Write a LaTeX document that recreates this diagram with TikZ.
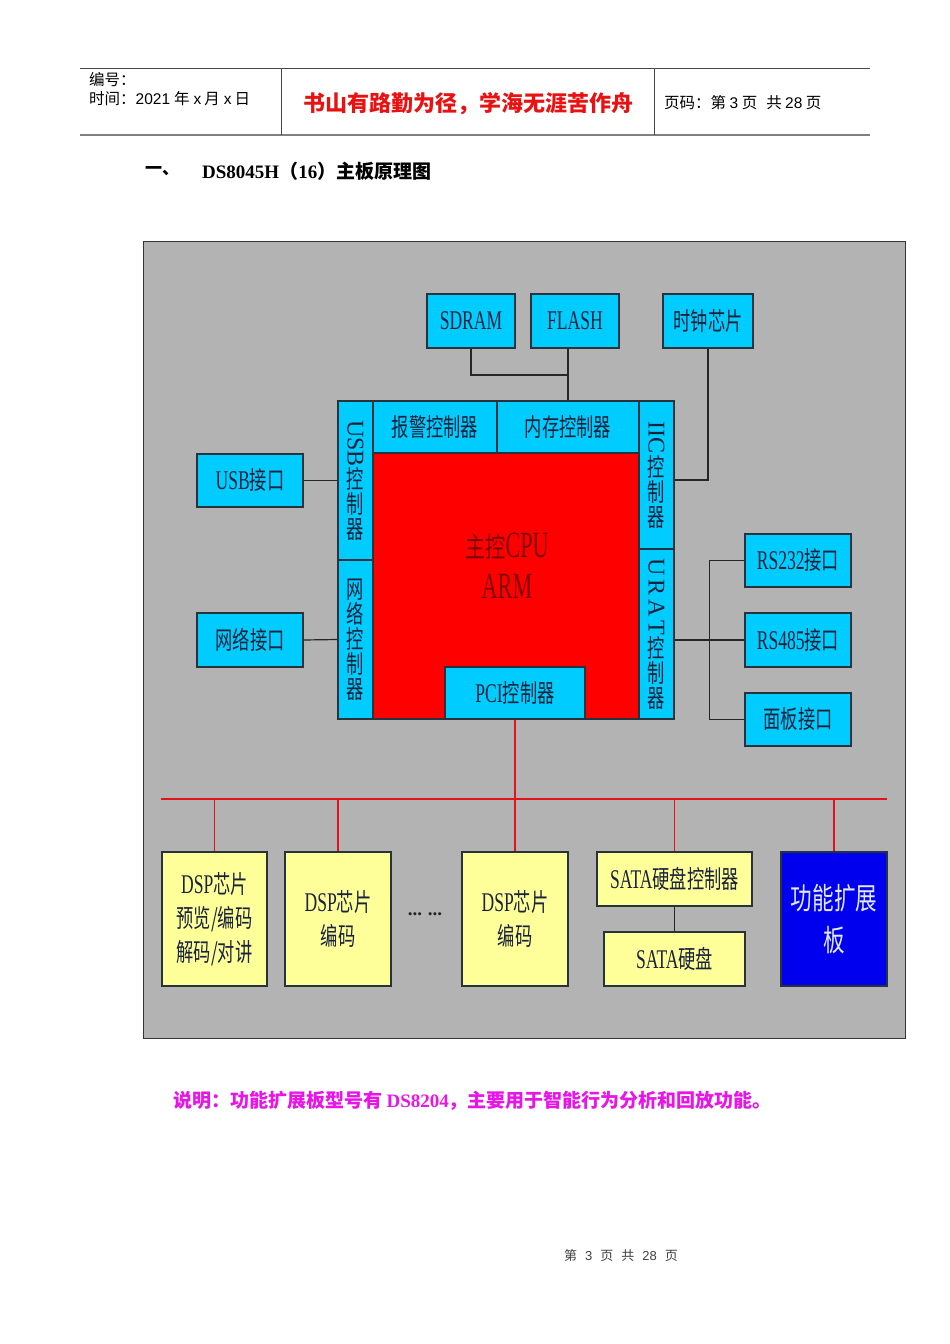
\documentclass[tikz,border=0pt]{standalone}
\usepackage{fontspec}
\usepackage{graphicx}
\setmainfont{Liberation Serif}
\newfontfamily\hsans{Liberation Sans}
\newfontfamily\cjk{Noto Sans CJK SC}
\newfontfamily\cjkn[FakeStretch=0.69]{Noto Sans CJK SC}
\newfontfamily\latn[FakeStretch=0.65,Scale=1.08]{Liberation Serif}
\newfontfamily\cjkc[FakeStretch=0.72]{Noto Sans CJK SC}
\newfontfamily\latc[FakeStretch=0.6]{Liberation Serif}
\newcommand\latword[1]{{\latn #1}}
\newcommand\rotword[1]{\rotatebox{-90}{\rmfamily\fontsize{24}{24}\selectfont #1}}
\definecolor{bggray}{RGB}{179,179,179}
\definecolor{cyanf}{RGB}{0,204,255}
\definecolor{yelf}{RGB}{255,255,153}
\definecolor{bluef}{RGB}{0,0,238}
\definecolor{boxline}{RGB}{40,50,60}
\definecolor{txt}{RGB}{25,35,60}
\definecolor{busred}{RGB}{225,20,30}
\definecolor{cputxt}{RGB}{125,0,0}
\definecolor{motto}{RGB}{232,18,18}
\definecolor{notec}{RGB}{232,20,232}
\definecolor{extxt}{RGB}{225,232,255}
\definecolor{hline}{RGB}{70,70,70}
\tikzset{
  boxfont/.style={font={\cjkn\fontsize{25}{34}\selectfont}},
  cbox/.style={draw=boxline, fill=cyanf, line width=1.3pt, text=txt, inner sep=0pt, align=center, boxfont},
  ybox/.style={draw=boxline, fill=yelf, line width=1.3pt, text=txt, inner sep=0pt, align=center, boxfont},
  colbox/.style={cbox, minimum width=35pt, font={\cjkn\fontsize{25}{25}\selectfont}},
  wire/.style={draw=black!85, line width=1.2pt},
  rwire/.style={draw=busred, line width=1.2pt},
}
\begin{document}
\begin{tikzpicture}[x=1pt,y=-1pt]
\useasboundingbox (0,0) rectangle (950,1344);
\fill[white] (0,0) rectangle (950,1344);

% ---------- header ----------
\draw[hline, line width=1pt] (80,68) -- (870,68);
\draw[gray, line width=2pt] (80,135) -- (870,135);
\draw[hline, line width=1pt] (281,68) -- (281,135);
\draw[hline, line width=1pt] (654,68) -- (654,135);
\node[anchor=west, inner sep=0, font={\cjk\fontsize{15.5}{15.5}\selectfont}] (hno) at (89,80) {编号：};
\node[anchor=west, inner sep=0, font={\cjk\fontsize{15.5}{15.5}\selectfont}] (htime) at (89,99) {时间：{\hsans 2021}\hspace{4pt}年\hspace{4pt}{\hsans x}\hspace{3pt}月\hspace{4pt}{\hsans x}\hspace{3pt}日};
\node[inner sep=0, text=motto, font={\cjk\bfseries\fontsize{22}{22}\selectfont}] (motto) at (468,104) {书山有路勤为径，学海无涯苦作舟};
\node[anchor=west, inner sep=0, font={\cjk\fontsize{15.5}{15.5}\selectfont}] (hpage) at (664,103) {页码：第 {\hsans 3} 页\hspace{9pt}共 {\hsans 28} 页};

% ---------- title ----------
\node[anchor=west, inner sep=0, font={\cjk\bfseries\fontsize{17}{17}\selectfont}] (t1) at (145,171) {一、};
\node[anchor=west, inner sep=0, font={\cjk\bfseries\fontsize{19}{19}\selectfont}] (t2) at (202,171) {{\rmfamily\bfseries DS8045H}（{\rmfamily\bfseries 16}）主板原理图};

% ---------- diagram background ----------
\node[draw=black!80, fill=bggray, line width=1.2pt, minimum width=762pt, minimum height=797pt, inner sep=0, anchor=north west] (bg) at (143,241) {};

% top memory boxes
\node[cbox, minimum width=88pt, minimum height=54pt] (sdram) at (471,321) {\latword{SDRAM}};
\node[cbox, minimum width=88pt, minimum height=54pt] (flash) at (575,321) {\latword{FLASH}};
\node[cbox, minimum width=90pt, minimum height=54pt] (clk) at (708,321) {时钟芯片};

% CPU core
\node[draw=boxline, fill=red, line width=1.3pt, minimum width=266pt, minimum height=266pt, inner sep=0] (cpu) at (506,586) {};
\node[anchor=base, inner sep=0, text=cputxt] (cpu1) at (507,557) {{\cjkc\fontsize{28}{28}\selectfont 主控}{\latc\fontsize{37}{37}\selectfont CPU}};
\node[anchor=base, inner sep=0, text=cputxt] (cpu2) at (507,598) {{\latc\fontsize{37}{37}\selectfont ARM}};

\node[cbox, minimum width=124pt, minimum height=52pt] (alarm) at (435,427) {报警控制器};
\node[cbox, minimum width=142pt, minimum height=52pt] (mem) at (568,427) {内存控制器};
\node[colbox, minimum height=159pt] (usbc) at (355.5,480.5) {\rotword{USB}\\控\\制\\器};
\node[colbox, minimum height=159pt] (netc) at (355.5,639.5) {网\\络\\控\\制\\器};
\node[colbox, minimum height=148pt] (iic) at (656.5,475) {\rotword{IIC}\\控\\制\\器};
\node[colbox, minimum height=170pt] (urat) at (656.5,634) {\rotword{U\,R\,A\,T}\\控\\制\\器};
\node[cbox, minimum width=140pt, minimum height=52pt] (pci) at (515,693) {\latword{PCI}控制器};

% side interfaces
\node[cbox, minimum width=106pt, minimum height=53pt] (usbif) at (250,480.5) {\latword{USB}接口};
\node[cbox, minimum width=106pt, minimum height=54pt] (netif) at (250,640) {网络接口};
\node[cbox, minimum width=106pt, minimum height=53pt] (rs232) at (798,560.5) {\latword{RS232}接口};
\node[cbox, minimum width=106pt, minimum height=54pt] (rs485) at (798,640) {\latword{RS485}接口};
\node[cbox, minimum width=106pt, minimum height=53pt] (panel) at (798,719.5) {面板接口};

% bottom modules
\node[ybox, minimum width=105pt, minimum height=134pt] (dsp1) at (214.5,919) {\latword{DSP}芯片\\预览/编码\\解码/对讲};
\node[ybox, minimum width=106pt, minimum height=134pt] (dsp2) at (338,919) {\latword{DSP}芯片\\编码};
\node[ybox, minimum width=106pt, minimum height=134pt] (dsp3) at (515,919) {\latword{DSP}芯片\\编码};
\node[inner sep=0, text=black!85, font={\rmfamily\bfseries\fontsize{19}{19}\selectfont}] (dots) at (425,914) {...\hspace{6pt}...};
\node[ybox, minimum width=155pt, minimum height=54pt] (satac) at (674.5,879) {\latword{SATA}硬盘控制器};
\node[ybox, minimum width=141pt, minimum height=54pt] (satad) at (674.5,959) {\latword{SATA}硬盘};
\node[draw=boxline, fill=bluef, line width=1.3pt, minimum width=106pt, minimum height=134pt, inner sep=0, align=center, text=extxt, font={\cjkc\fontsize{30}{42}\selectfont}] (ext) at (834,919) {功能扩展\\板};

% ---------- connectors ----------
\coordinate (mj) at (568,375);
\draw[wire] (sdram.south) |- (mj);
\draw[wire] (mem.north) -- (mem.north |- flash.south);
\draw[wire] (clk.south) |- ([yshift=-5pt]iic.east);
\draw[wire] (usbif.east) -- (usbc.west);
\draw[wire] (netif.east) -- (netc.west);
\draw[wire] (rs485.west) -- (rs485.west -| urat.east);
\draw[wire] (rs232.west) -- ++(-35,0) |- (panel.west);
\draw[wire] (satac.south) -- (satad.north);

\coordinate (busL) at (161,799);
\coordinate (busR) at (887,799);
\draw[rwire, line width=1.6pt] (busL) -- (busR);
\draw[rwire] (pci.south) -- (dsp3.north);
\draw[rwire] (dsp1.north) -- (dsp1.north |- busL);
\draw[rwire] (dsp2.north) -- (dsp2.north |- busL);
\draw[rwire] (satac.north) -- (satac.north |- busL);
\draw[rwire] (ext.north) -- (ext.north |- busL);

% ---------- note and footer ----------
\node[anchor=west, inner sep=0, text=notec, font={\cjk\bfseries\fontsize{19}{19}\selectfont}] (note) at (173,1101) {说明：功能扩展板型号有 {\rmfamily\bfseries DS8204}，主要用于智能行为分析和回放功能。};
\node[inner sep=0, text=black!75, font={\cjk\fontsize{13}{13}\selectfont}] (foot) at (621,1256) {第\hspace{8pt}{\hsans 3}\hspace{8pt}页\hspace{8pt}共\hspace{8pt}{\hsans 28}\hspace{8pt}页};
\end{tikzpicture}
\end{document}
